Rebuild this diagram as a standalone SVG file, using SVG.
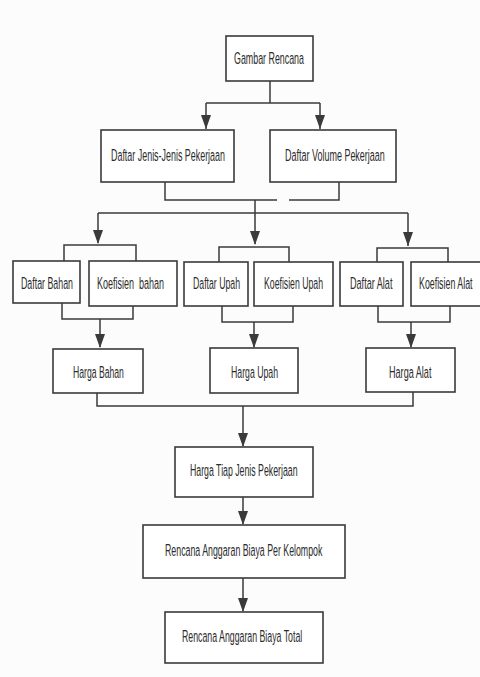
<svg xmlns="http://www.w3.org/2000/svg" width="480" height="677" viewBox="0 0 480 677">
<style>
.box{fill:#ffffff;stroke:#3a3a3a;stroke-width:1.6}
.lbl{font-family:"Liberation Sans",Arial,sans-serif;font-size:17px;fill:#2b2b2b}
.ln{fill:none;stroke:#3a3a3a;stroke-width:1.5}
.ah{fill:#3a3a3a}
</style>
<rect width="480" height="677" fill="#fcfcfc"/>
<g id="connectors">
<path class="ln" d="M270,81 V103 M206,103 H320 M206,103 V129 M320,103 V129"/>
<path class="ah" d="M201,115 L211,115 L206,129 Z"/>
<path class="ah" d="M315,115 L325,115 L320,129 Z"/>
<path class="ln" d="M165,182 V200 H277 M289,200 H339 V182"/>
<path class="ln" d="M255,200 V244 M98,213 H408 M98,213 V243 M408,213 V246"/>
<path class="ah" d="M93,230 L103,230 L98,244 Z"/>
<path class="ah" d="M250,231 L260,231 L255,245 Z"/>
<path class="ah" d="M403,232 L413,232 L408,246 Z"/>
<path class="ln" d="M64,261 V245 H136 V261 M219,262 V247 H289 V262 M377,262 V248 H448 V262"/>
<path class="ln" d="M62,303 V319 H133 V306 M100,319 V347 M222,306 V322 H293 V306 M254,322 V347 M378,306 V322 H450 V306 M411,322 V347"/>
<path class="ah" d="M95,334 L105,334 L100,348 Z"/>
<path class="ah" d="M249,334 L259,334 L254,348 Z"/>
<path class="ah" d="M406,334 L416,334 L411,348 Z"/>
<path class="ln" d="M97,393 V406 H413 V392 M243,406 V446 M243,497 V524 M243,578 V611"/>
<path class="ah" d="M238,433 L248,433 L243,447 Z"/>
<path class="ah" d="M238,511 L248,511 L243,525 Z"/>
<path class="ah" d="M238,598 L248,598 L243,612 Z"/>
</g>
<g id="gambar-rencana"><rect class="box" x="226" y="36" width="87" height="45"/><text class="lbl" transform="translate(234,64) scale(0.522,1)">Gambar Rencana</text></g>
<g id="daftar-jenis"><rect class="box" x="101" y="130" width="133" height="52"/><text class="lbl" transform="translate(111,161) scale(0.525,1)">Daftar Jenis-Jenis Pekerjaan</text></g>
<g id="daftar-volume"><rect class="box" x="270" y="130" width="126" height="52"/><text class="lbl" transform="translate(285,161) scale(0.529,1)">Daftar Volume Pekerjaan</text></g>
<g id="daftar-bahan"><rect class="box" x="13" y="261" width="67" height="42"/><text class="lbl" transform="translate(21,289) scale(0.519,1)">Daftar Bahan</text></g>
<g id="koefisien-bahan"><rect class="box" x="89" y="261" width="88" height="45"/><text class="lbl" xml:space="preserve" transform="translate(97,289) scale(0.529,1)">Koefisien  bahan</text></g>
<g id="daftar-upah"><rect class="box" x="184" y="262" width="64" height="44"/><text class="lbl" transform="translate(193,289) scale(0.513,1)">Daftar Upah</text></g>
<g id="koefisien-upah"><rect class="box" x="254" y="262" width="79" height="44"/><text class="lbl" transform="translate(264,289) scale(0.512,1)">Koefisien Upah</text></g>
<g id="daftar-alat"><rect class="box" x="340" y="262" width="63" height="44"/><text class="lbl" transform="translate(350,289) scale(0.535,1)">Daftar Alat</text></g>
<g id="koefisien-alat"><rect class="box" x="411" y="262" width="72" height="44"/><text class="lbl" transform="translate(419,289) scale(0.52,1)">Koefisien Alat</text></g>
<g id="harga-bahan"><rect class="box" x="53" y="349" width="90" height="44"/><text class="lbl" transform="translate(73,378) scale(0.509,1)">Harga Bahan</text></g>
<g id="harga-upah"><rect class="box" x="210" y="348" width="88" height="45"/><text class="lbl" transform="translate(231,378) scale(0.513,1)">Harga Upah</text></g>
<g id="harga-alat"><rect class="box" x="366" y="348" width="89" height="44"/><text class="lbl" transform="translate(389,378) scale(0.535,1)">Harga Alat</text></g>
<g id="harga-tiap"><rect class="box" x="175" y="447" width="138" height="50"/><text class="lbl" transform="translate(190,476) scale(0.515,1)">Harga Tiap Jenis Pekerjaan</text></g>
<g id="rab-kelompok"><rect class="box" x="143" y="525" width="202" height="53"/><text class="lbl" transform="translate(165,556) scale(0.518,1)">Rencana Anggaran Biaya Per Kelompok</text></g>
<g id="rab-total"><rect class="box" x="165" y="612" width="158" height="51"/><text class="lbl" transform="translate(182,642) scale(0.516,1)">Rencana Anggaran Biaya Total</text></g>
</svg>
